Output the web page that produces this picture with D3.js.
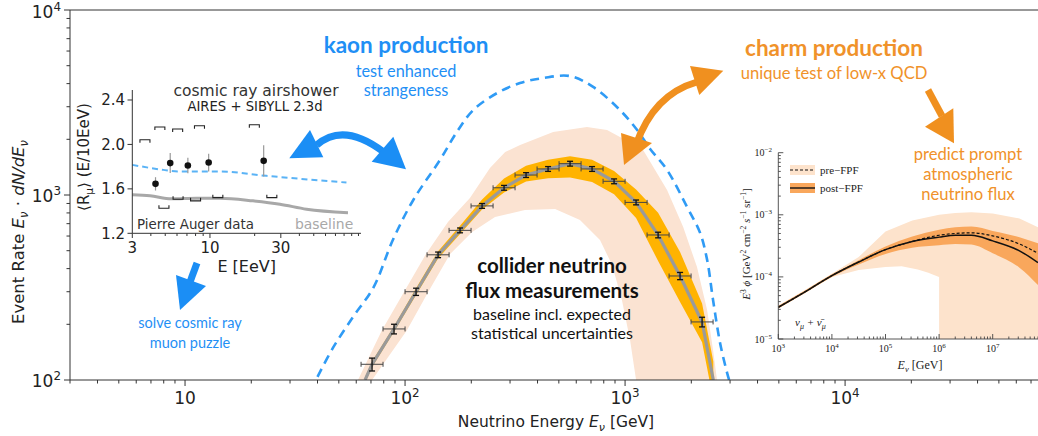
<!DOCTYPE html>
<html><head><meta charset="utf-8">
<script src="https://cdn.jsdelivr.net/npm/d3@7"></script>
<style>body{margin:0;background:#fff}svg{display:block}</style>
</head><body>
<svg id="c" width="1038" height="436"></svg>
<script>
// ---------------- main chart data ----------------
const binCenters = [70.8, 89.1, 112.2, 141.3, 177.8, 223.9, 281.8, 354.8, 446.7, 562.3, 707.9, 891.3, 1122, 1413, 1778, 2239];
const binEdgesLo = [63.1, 79.4, 100, 125.9, 158.5, 199.5, 251.2, 316.2, 398.1, 501.2, 631, 794.3, 1000, 1259, 1585, 1995];
const binEdgesHi = [79.4, 100, 125.9, 158.5, 199.5, 251.2, 316.2, 398.1, 501.2, 631, 794.3, 1000, 1259, 1585, 1995, 2512];
const binRates = [121.6, 188.8, 300, 475, 644, 873, 1094, 1282, 1383, 1477, 1383, 1186, 912, 608, 365, 206];
const binRelErr = [0.08, 0.06, 0.045, 0.035, 0.03, 0.03, 0.03, 0.03, 0.03, 0.03, 0.03, 0.03, 0.03, 0.035, 0.045, 0.06];

const baseE = [65.8, 70.8, 89.1, 112.2, 141.3, 177.8, 223.9, 281.8, 354.8, 446.7, 562.3, 707.9, 891.3, 1122, 1413, 1778, 2239, 2518];
const baseR = [100, 121.6, 188.8, 300, 475, 644, 873, 1094, 1282, 1383, 1477, 1383, 1186, 912, 608, 365, 206, 100];
const statHi = [103.5, 125.8, 195.4, 313, 497, 682, 946, 1227, 1438, 1552, 1619, 1552, 1347, 1071, 801, 492, 259, 126];
const statLo = [96.6, 117.5, 182.4, 288, 454, 615, 834, 1033, 1183, 1233, 1242, 1177, 1010, 750, 440, 264, 160, 78];

const peachUpperE = [61.1, 78.5, 98.9, 124.5, 156.7, 197.2, 243.2, 285.1, 333.4, 471, 671, 828, 948, 1208, 1552, 1837, 2123, 2360, 2512, 2618];
const peachUpperR = [100, 186, 299, 480, 714, 964, 1400, 1706, 1862, 2193, 2333, 2244, 2061, 1750, 1064, 671, 408, 239, 145, 100];
const peachLowerE = [70.8, 102, 127.4, 160.3, 201.8, 256.4, 350.8, 480.8, 623.7, 769.1, 873, 968, 1054, 1122];
const peachLowerR = [100, 186, 299, 480, 631, 760, 830, 839, 733, 571, 419, 270, 164, 100];

const kaonE = [40, 47, 58, 72, 88, 109, 144, 172, 204, 262, 333, 424, 562, 716, 948, 1135, 1300, 1552, 1914, 2193, 2360, 2512, 2704, 2911, 2972];
const kaonR = [104, 149, 219, 318, 571, 940, 1545, 2193, 2877, 3556, 4027, 4285, 4395, 3837, 2877, 2244, 1774, 1365, 861, 624, 446, 270, 158, 109, 100];

const xMajor = [10, 100, 1000, 10000];
const xLabelExp = ["", "2", "3", "4"];
const yMajor = [100, 1000, 10000];
const yLabelExp = ["2", "3", "4"];

// ---------------- left inset data ----------------
const augerE = [4.3, 5.4, 7.1, 9.8, 23];
const augerR = [1.645, 1.832, 1.81, 1.837, 1.852];
const augerErr = [0.06, 0.09, 0.07, 0.08, 0.14];
const sysTopE = [3.65, 4.6, 6.06, 8.5, 19.9];
const sysTopR = [2.042, 2.157, 2.139, 2.168, 2.177];
const sysBotE = [4.9, 6.1, 8.0, 11.3, 26.1];
const sysBotR = [1.426, 1.507, 1.492, 1.521, 1.521];
const insBaseE = [3, 3.95, 5.5, 8.1, 11.7, 19.5, 29.6, 44.7, 85];
const insBaseR = [1.546, 1.537, 1.51, 1.516, 1.516, 1.492, 1.462, 1.417, 1.386];
const insKaonE = [3, 4.85, 6.1, 11.7, 24, 83];
const insKaonR = [1.816, 1.771, 1.756, 1.756, 1.717, 1.657];
const insXTicks = [3, 10, 30];
const insYTicks = [1.2, 1.6, 2.0, 2.4];

// ---------------- right inset data ----------------
const promptE = [1e3, 3.16e3, 1e4, 3.16e4, 1e5, 3.16e5, 1e6, 2e6, 4e6, 1e7, 3.16e7, 7e7];
const postC = [3.24e-5, 5.75e-5, 1.05e-4, 1.74e-4, 2.75e-4, 3.72e-4, 4.37e-4, 4.68e-4, 4.68e-4, 3.80e-4, 2.63e-4, 1.70e-4];
const preC = [3.24e-5, 5.75e-5, 1.05e-4, 1.74e-4, 2.75e-4, 3.72e-4, 4.68e-4, 5.01e-4, 5.13e-4, 4.57e-4, 3.39e-4, 2.40e-4];
const postHi = [3.39e-5, 6.03e-5, 1.10e-4, 1.86e-4, 3.09e-4, 4.47e-4, 5.75e-4, 6.31e-4, 6.46e-4, 5.50e-4, 4.37e-4, 3.47e-4];
const postLo = [3.09e-5, 5.50e-5, 1.0e-4, 1.58e-4, 2.34e-4, 2.95e-4, 3.24e-4, 3.39e-4, 3.31e-4, 2.40e-4, 1.41e-4, 7.41e-5];
const preHi = [3.47e-5, 6.17e-5, 1.12e-4, 2.09e-4, 5.37e-4, 8.13e-4, 1.0e-3, 1.07e-3, 1.10e-3, 1.05e-3, 8.71e-4, 6.31e-4];
const preLoE = [7e7, 1e6, 1e6, 8e5, 6.3e5, 4e5, 2e5, 1e5, 3.16e4, 1e4, 3.16e3, 1e3];
const preLoV = [1e-6, 1e-6, 1.0e-4, 1.07e-4, 1.17e-4, 1.32e-4, 1.48e-4, 1.45e-4, 1.29e-4, 1.0e-4, 5.62e-5, 3.09e-5];
const rXTicks = [1e3, 1e4, 1e5, 1e6, 1e7];
const rXExp = ["3", "4", "5", "6", "7"];
const rYTicks = [1e-5, 1e-4, 1e-3, 1e-2];
const rYExp = ["−5", "−4", "−3", "−2"];

// ---------------- colours ----------------
const C = {
  peach: "#fbe3d2", amber: "#ffb300", gray: "#9a9a9a", kaon: "#2f9bf5",
  blueTxt: "#1f8ff5", orangeTxt: "#f0922a", arrowBlue: "#1b8ef5", arrowOrange: "#f0901f",
  axis: "#333", rPeach: "#fde3cc", rOrange: "#f9a75c"
};
const MPL = "DejaVu Sans";
const GILL = "Lato, 'Open Sans', sans-serif";
const SERIF = "'Liberation Serif', 'DejaVu Serif', serif";

const svg = d3.select("#c");
const defs = svg.append("defs");

// ================= MAIN CHART =================
const x = d3.scaleLog().domain([3, 75300]).range([70, 1038]);
const y = d3.scaleLog().domain([100, 10000]).range([380, 10]);
defs.append("clipPath").attr("id", "mainclip").append("rect")
  .attr("x", 70).attr("y", 10).attr("width", 968).attr("height", 370);
const gm = svg.append("g").attr("clip-path", "url(#mainclip)");

// peach systematic band (with hole)
const peachPts = peachUpperE.map((e, i) => [e, peachUpperR[i]])
  .concat(peachLowerE.map((e, i) => [e, peachLowerR[i]]).reverse());
gm.append("path")
  .attr("d", d3.line().x(d => x(d[0])).y(d => y(d[1]))(peachPts) + "Z")
  .attr("fill", C.peach);

// amber statistical band
const baseData = baseE.map((e, i) => ({E: e, r: baseR[i], hi: statHi[i], lo: statLo[i]}));
gm.append("path")
  .attr("d", d3.area().x(d => x(d.E)).y0(d => y(d.lo)).y1(d => y(d.hi))(baseData))
  .attr("fill", C.amber);

// kaon dashed curve
gm.append("path")
  .attr("d", d3.line().x((d, i) => x(kaonE[i])).y(d => y(d)).curve(d3.curveCatmullRom)(kaonR))
  .attr("fill", "none").attr("stroke", C.kaon).attr("stroke-width", 2.6)
  .attr("stroke-dasharray", "9,6");

// central line
gm.append("path")
  .attr("d", d3.line().x(d => x(d.E)).y(d => y(d.r))(baseData))
  .attr("fill", "none").attr("stroke", C.gray).attr("stroke-width", 3.2);

// data points
const pts = gm.append("g");
binCenters.forEach((e, i) => {
  const cx = x(e), cy = y(binRates[i]);
  const xl = x(binEdgesLo[i]), xh = x(binEdgesHi[i]);
  const yt = y(binRates[i] * (1 + binRelErr[i])), yb = y(binRates[i] * (1 - binRelErr[i]));
  pts.append("line").attr("x1", xl).attr("x2", xh).attr("y1", cy).attr("y2", cy).attr("stroke", "#444").attr("stroke-width", 1);
  pts.append("line").attr("x1", xl).attr("x2", xl).attr("y1", cy - 2.5).attr("y2", cy + 2.5).attr("stroke", "#444").attr("stroke-width", 1);
  pts.append("line").attr("x1", xh).attr("x2", xh).attr("y1", cy - 2.5).attr("y2", cy + 2.5).attr("stroke", "#444").attr("stroke-width", 1);
  pts.append("line").attr("x1", cx).attr("x2", cx).attr("y1", yt).attr("y2", yb).attr("stroke", "#111").attr("stroke-width", 1.3);
  pts.append("line").attr("x1", cx - 3).attr("x2", cx + 3).attr("y1", yt).attr("y2", yt).attr("stroke", "#111").attr("stroke-width", 1.3);
  pts.append("line").attr("x1", cx - 3).attr("x2", cx + 3).attr("y1", yb).attr("y2", yb).attr("stroke", "#111").attr("stroke-width", 1.3);
});

// axes (spines + ticks)
const ax = svg.append("g").attr("stroke", C.axis).attr("stroke-width", 1);
ax.append("line").attr("x1", 70).attr("x2", 1038).attr("y1", 380).attr("y2", 380);
ax.append("line").attr("x1", 70).attr("x2", 1038).attr("y1", 10).attr("y2", 10);
ax.append("line").attr("x1", 70).attr("x2", 70).attr("y1", 10).attr("y2", 380);
const xMinor = [];
for (let p = 0; p < 5; p++) for (let m = 2; m < 10; m++) {
  const v = m * Math.pow(10, p);
  if (v >= 3 && v <= 75300) xMinor.push(v);
}
xMinor.forEach(v => ax.append("line").attr("x1", x(v)).attr("x2", x(v)).attr("y1", 380).attr("y2", 383.5));
xMajor.forEach(v => ax.append("line").attr("x1", x(v)).attr("x2", x(v)).attr("y1", 380).attr("y2", 386));
const yMinor = [];
for (let p = 2; p < 4; p++) for (let m = 2; m < 10; m++) yMinor.push(m * Math.pow(10, p));
yMinor.forEach(v => ax.append("line").attr("y1", y(v)).attr("y2", y(v)).attr("x1", 70).attr("x2", 66.5));
yMajor.forEach(v => ax.append("line").attr("y1", y(v)).attr("y2", y(v)).attr("x1", 70).attr("x2", 64));

function supText(g, px, py, base, exp, fs, anchor, family, color) {
  const t = g.append("text").attr("x", px).attr("y", py).attr("text-anchor", anchor)
    .attr("font-family", family).attr("font-size", fs).attr("fill", color || "#222");
  t.append("tspan").text(base);
  if (exp) t.append("tspan").attr("dy", -fs * 0.4).attr("font-size", fs * 0.7).text(exp);
  return t;
}
const labs = svg.append("g");
xMajor.forEach((v, i) => supText(labs, x(v), 404, "10", xLabelExp[i], 17, "middle", MPL));
yMajor.forEach((v, i) => supText(labs, 61, y(v) + (v === 10000 ? 8 : 6.5), "10", yLabelExp[i], 17, "end", MPL));

// axis titles
const xt = labs.append("text").attr("x", 556).attr("y", 427).attr("text-anchor", "middle")
  .attr("font-family", MPL).attr("font-size", 15.5).attr("fill", "#222");
xt.append("tspan").text("Neutrino Energy  ");
xt.append("tspan").attr("font-style", "italic").text("E");
xt.append("tspan").attr("dy", 4).attr("font-size", 11).attr("font-style", "italic").text("ν");
xt.append("tspan").attr("dy", -4).text(" [GeV]");
const yt = labs.append("text").attr("transform", "translate(24,232) rotate(-90)").attr("text-anchor", "middle")
  .attr("font-family", MPL).attr("font-size", 16.5).attr("fill", "#222");
yt.append("tspan").text("Event Rate  ");
yt.append("tspan").attr("font-style", "italic").text("E");
yt.append("tspan").attr("dy", 4).attr("font-size", 11.5).attr("font-style", "italic").text("ν");
yt.append("tspan").attr("dy", -4).text(" · ");
yt.append("tspan").attr("font-style", "italic").text("dN/dE");
yt.append("tspan").attr("dy", 4).attr("font-size", 11.5).attr("font-style", "italic").text("ν");

// ================= LEFT INSET =================
const xi = d3.scaleLog().domain([3, 104]).range([132.3, 361]);
const yi = d3.scaleLinear().domain([1.2, 2.49]).range([233.3, 90]);
const gi = svg.append("g");
gi.append("path").attr("d", d3.line().x((d, i) => xi(insBaseE[i])).y(d => yi(d)).curve(d3.curveMonotoneX)(insBaseR))
  .attr("fill", "none").attr("stroke", "#a8a8a8").attr("stroke-width", 3);
gi.append("path").attr("d", d3.line().x((d, i) => xi(insKaonE[i])).y(d => yi(d)).curve(d3.curveMonotoneX)(insKaonR))
  .attr("fill", "none").attr("stroke", "#5ab3f6").attr("stroke-width", 2).attr("stroke-dasharray", "6,4");
sysTopE.forEach((e, i) => {
  const cx = xi(e), cy = yi(sysTopR[i]);
  gi.append("path").attr("d", `M${cx - 5},${cy + 3}V${cy}H${cx + 5}V${cy + 3}`).attr("fill", "none").attr("stroke", "#222").attr("stroke-width", 1.1);
});
sysBotE.forEach((e, i) => {
  const cx = xi(e), cy = yi(sysBotR[i]);
  gi.append("path").attr("d", `M${cx - 5},${cy - 3}V${cy}H${cx + 5}V${cy - 3}`).attr("fill", "none").attr("stroke", "#222").attr("stroke-width", 1.1);
});
augerE.forEach((e, i) => {
  const cx = xi(e), cy = yi(augerR[i]);
  gi.append("line").attr("x1", cx).attr("x2", cx).attr("y1", yi(augerR[i] + augerErr[i])).attr("y2", yi(augerR[i] - augerErr[i]))
    .attr("stroke", "#999").attr("stroke-width", 1.2);
  gi.append("circle").attr("cx", cx).attr("cy", cy).attr("r", 3.3).attr("fill", "#111");
});
const ai = gi.append("g").attr("stroke", C.axis).attr("stroke-width", 1);
ai.append("line").attr("x1", 132.3).attr("x2", 361).attr("y1", 233.3).attr("y2", 233.3);
ai.append("line").attr("x1", 132.3).attr("x2", 132.3).attr("y1", 90).attr("y2", 233.3);
const insXMinor = [4, 5, 6, 7, 8, 9, 20, 40, 50, 60, 70, 80, 90, 100];
insXMinor.forEach(v => ai.append("line").attr("x1", xi(v)).attr("x2", xi(v)).attr("y1", 233.3).attr("y2", 236));
insXTicks.forEach(v => ai.append("line").attr("x1", xi(v)).attr("x2", xi(v)).attr("y1", 233.3).attr("y2", 238));
insYTicks.forEach(v => ai.append("line").attr("y1", yi(v)).attr("y2", yi(v)).attr("x1", 132.3).attr("x2", 127.5));
insXTicks.forEach(v => gi.append("text").attr("x", xi(v)).attr("y", 253).attr("text-anchor", "middle")
  .attr("font-family", MPL).attr("font-size", 15).attr("fill", "#222").text(v));
insYTicks.forEach(v => gi.append("text").attr("x", 125).attr("y", yi(v) + 5.5).attr("text-anchor", "end")
  .attr("font-family", MPL).attr("font-size", 15).attr("fill", "#222").text(v.toFixed(1)));
gi.append("text").attr("x", 246.7).attr("y", 272).attr("text-anchor", "middle").attr("font-family", MPL)
  .attr("font-size", 16).attr("fill", "#222").text("E [EeV]");
const iyl = gi.append("text").attr("transform", "translate(89,157) rotate(-90)").attr("text-anchor", "middle")
  .attr("font-family", MPL).attr("font-size", 15).attr("fill", "#222");
iyl.append("tspan").text("⟨R");
iyl.append("tspan").attr("dy", 4).attr("font-size", 10.5).text("μ");
iyl.append("tspan").attr("dy", -4).text("⟩ (E/10EeV)");
gi.append("text").attr("x", 256).attr("y", 96).attr("text-anchor", "middle").attr("font-family", MPL)
  .attr("font-size", 15.5).attr("fill", "#333").text("cosmic ray airshower");
gi.append("text").attr("x", 255).attr("y", 111).attr("text-anchor", "middle").attr("font-family", MPL)
  .attr("font-size", 13.2).attr("fill", "#222").text("AIRES + SIBYLL 2.3d");
gi.append("text").attr("x", 137).attr("y", 229).attr("font-family", MPL)
  .attr("font-size", 13.4).attr("fill", "#333").text("Pierre Auger data");
gi.append("text").attr("x", 295).attr("y", 229).attr("text-anchor", "start").attr("font-family", MPL)
  .attr("font-size", 13.9).attr("fill", "#a8a8a8").text("baseline");

// ================= RIGHT INSET =================
const xr = d3.scaleLog().domain([1e3, 1e8]).range([778.3, 1046.3]);
const yr = d3.scaleLog().domain([1e-5, 1e-2]).range([339, 152.7]);
defs.append("clipPath").attr("id", "rclip").append("rect")
  .attr("x", 778.3).attr("y", 152.7).attr("width", 270).attr("height", 186.3);
const gr = svg.append("g");
const grc = gr.append("g").attr("clip-path", "url(#rclip)");
const prePts = promptE.map((e, i) => [e, preHi[i]]).concat(preLoE.map((e, i) => [e, preLoV[i]]));
grc.append("path").attr("d", d3.line().x(d => xr(d[0])).y(d => yr(d[1]))(prePts) + "Z").attr("fill", C.rPeach);
const postData = promptE.map((e, i) => ({E: e, hi: postHi[i], lo: postLo[i]}));
grc.append("path").attr("d", d3.area().x(d => xr(d.E)).y0(d => yr(d.lo)).y1(d => yr(d.hi)).curve(d3.curveMonotoneX)(postData))
  .attr("fill", C.rOrange);
grc.append("path").attr("d", d3.line().x((d, i) => xr(promptE[i])).y(d => yr(d)).curve(d3.curveMonotoneX)(preC))
  .attr("fill", "none").attr("stroke", "#111").attr("stroke-width", 1.2).attr("stroke-dasharray", "3,2");
grc.append("path").attr("d", d3.line().x((d, i) => xr(promptE[i])).y(d => yr(d)).curve(d3.curveMonotoneX)(postC))
  .attr("fill", "none").attr("stroke", "#111").attr("stroke-width", 1.5);
const ar = gr.append("g").attr("stroke", "#444").attr("stroke-width", 0.9);
ar.append("line").attr("x1", 778.3).attr("x2", 1038).attr("y1", 339).attr("y2", 339);
ar.append("line").attr("x1", 778.3).attr("x2", 778.3).attr("y1", 152.7).attr("y2", 339);
for (let p = 3; p < 8; p++) for (let m = 2; m < 10; m++) {
  const v = m * Math.pow(10, p), px = xr(v);
  if (px < 1038) ar.append("line").attr("x1", px).attr("x2", px).attr("y1", 339).attr("y2", 336.5);
}
rXTicks.forEach(v => ar.append("line").attr("x1", xr(v)).attr("x2", xr(v)).attr("y1", 339).attr("y2", 334));
for (let p = -5; p < -2; p++) for (let m = 2; m < 10; m++) {
  const py = yr(m * Math.pow(10, p));
  ar.append("line").attr("x1", 778.3).attr("x2", 780.8).attr("y1", py).attr("y2", py);
}
rYTicks.forEach(v => ar.append("line").attr("x1", 778.3).attr("x2", 783.3).attr("y1", yr(v)).attr("y2", yr(v)));
rXTicks.forEach((v, i) => supText(gr, xr(v), 352, "10", rXExp[i], 10, "middle", SERIF, "#222"));
rYTicks.forEach((v, i) => supText(gr, 772, yr(v) + 3.5, "10", rYExp[i], 10, "end", SERIF, "#222"));
const rxl = gr.append("text").attr("x", 920).attr("y", 369).attr("text-anchor", "middle").attr("font-family", SERIF)
  .attr("font-size", 12).attr("fill", "#222");
rxl.append("tspan").attr("font-style", "italic").text("E");
rxl.append("tspan").attr("dy", 3).attr("font-size", 8.5).attr("font-style", "italic").text("ν");
rxl.append("tspan").attr("dy", -3).text("  [GeV]");
const ryl = gr.append("text").attr("transform", "translate(750,244) rotate(-90)").attr("text-anchor", "middle")
  .attr("font-family", SERIF).attr("font-size", 11).attr("fill", "#222");
ryl.append("tspan").attr("font-style", "italic").text("E");
ryl.append("tspan").attr("dy", -4).attr("font-size", 7.5).text("3");
ryl.append("tspan").attr("dy", 4).attr("font-style", "italic").text(" ϕ ");
ryl.append("tspan").text("[GeV");
ryl.append("tspan").attr("dy", -4).attr("font-size", 7.5).text("2");
ryl.append("tspan").attr("dy", 4).text(" cm");
ryl.append("tspan").attr("dy", -4).attr("font-size", 7.5).text("−2");
ryl.append("tspan").attr("dy", 4).attr("font-style", "italic").text(" s");
ryl.append("tspan").attr("dy", -4).attr("font-size", 7.5).text("−1");
ryl.append("tspan").attr("dy", 4).text(" sr");
ryl.append("tspan").attr("dy", -4).attr("font-size", 7.5).text("−1");
ryl.append("tspan").attr("dy", 4).text("]");
// legend
gr.append("rect").attr("x", 790).attr("y", 165).attr("width", 25).attr("height", 10).attr("fill", C.rPeach);
gr.append("line").attr("x1", 790).attr("x2", 815).attr("y1", 170).attr("y2", 170).attr("stroke", "#111").attr("stroke-width", 1.1).attr("stroke-dasharray", "3,2");
gr.append("rect").attr("x", 790).attr("y", 183).attr("width", 25).attr("height", 10).attr("fill", C.rOrange);
gr.append("line").attr("x1", 790).attr("x2", 815).attr("y1", 188).attr("y2", 188).attr("stroke", "#111").attr("stroke-width", 1.4);
gr.append("text").attr("x", 820).attr("y", 174).attr("font-family", SERIF).attr("font-size", 11).attr("fill", "#222").text("pre−FPF");
gr.append("text").attr("x", 820).attr("y", 192).attr("font-family", SERIF).attr("font-size", 11).attr("fill", "#222").text("post−FPF");
const nl = gr.append("text").attr("x", 795).attr("y", 326).attr("font-family", SERIF).attr("font-size", 11)
  .attr("font-style", "italic").attr("fill", "#222");
nl.append("tspan").text("ν");
nl.append("tspan").attr("dy", 2.5).attr("font-size", 8).text("μ");
nl.append("tspan").attr("dy", -2.5).text(" + ν̄");
nl.append("tspan").attr("dy", 2.5).attr("font-size", 8).text("μ");

// ================= ANNOTATIONS =================
const an = svg.append("g");
function ann(px, py, txt, fs, color, bold) {
  an.append("text").attr("x", px).attr("y", py).attr("text-anchor", "middle").attr("font-family", GILL)
    .attr("font-size", fs).attr("font-weight", bold ? 700 : 400).attr("fill", color).text(txt);
}
ann(406, 53, "kaon production", 22.5, C.blueTxt, true);
ann(406, 77, "test enhanced", 16.3, C.blueTxt, false);
ann(406, 96, "strangeness", 16.3, C.blueTxt, false);
ann(834, 56, "charm production", 22.5, C.orangeTxt, true);
ann(834, 78.5, "unique test of low-x QCD", 16.6, C.orangeTxt, false);
ann(968, 159.5, "predict prompt", 16.6, C.orangeTxt, false);
ann(968, 179.5, "atmospheric", 16.6, C.orangeTxt, false);
ann(968, 199.5, "neutrino flux", 16.6, C.orangeTxt, false);
ann(552, 273, "collider neutrino", 20.5, "#111", true);
ann(552, 297.7, "flux measurements", 20.5, "#111", true);
ann(552, 319.5, "baseline incl. expected", 16, "#111", false);
ann(552, 339, "statistical uncertainties", 16, "#111", false);
ann(190, 328, "solve cosmic ray", 14.5, C.blueTxt, false);
ann(190, 348, "muon puzzle", 14.5, C.blueTxt, false);

// arrows (decorative)
const arrowShafts = [
  {d: "M316.7,145 Q343.4,121.7 383.3,151.7", c: C.arrowBlue},
  {d: "M197,263 L190,282", c: C.arrowBlue},
  {d: "M636,145 Q653.5,94.5 697,82", c: C.arrowOrange},
  {d: "M928,90 L942,116", c: C.arrowOrange}
];
const arrowHeads = [
  {p: [[310, 130], [289.3, 158.3], [323.3, 157.3]], c: C.arrowBlue},
  {p: [[393.3, 136.7], [371.7, 161.7], [406, 169.3]], c: C.arrowBlue},
  {p: [[176, 275], [206, 286], [180, 310]], c: C.arrowBlue},
  {p: [[624, 165], [621, 133], [652, 143]], c: C.arrowOrange},
  {p: [[723.3, 70.7], [690, 66], [699.3, 95]], c: C.arrowOrange},
  {p: [[925, 126.7], [953.3, 108.3], [954, 143.3]], c: C.arrowOrange}
];
arrowShafts.forEach(a => an.append("path").attr("d", a.d).attr("fill", "none").attr("stroke", a.c).attr("stroke-width", 7));
arrowHeads.forEach(a => an.append("path").attr("d", "M" + a.p.map(q => q.join(",")).join("L") + "Z").attr("fill", a.c));
</script>
</body></html>
